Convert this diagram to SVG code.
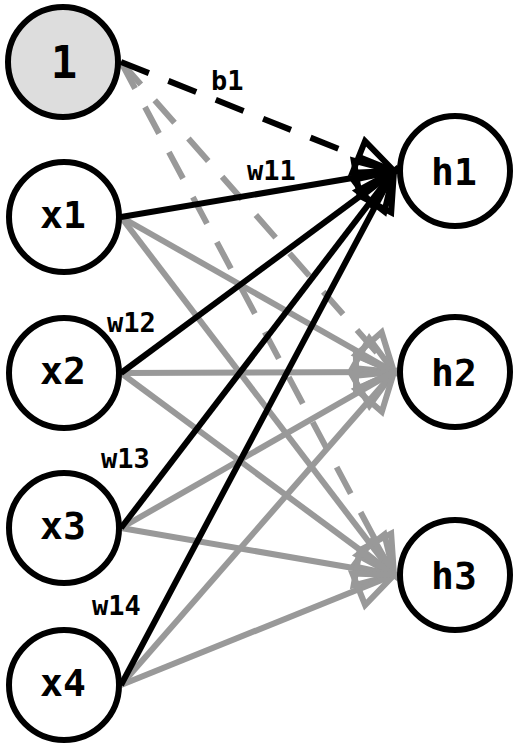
<svg xmlns="http://www.w3.org/2000/svg" width="519" height="747" viewBox="0 0 519 747">
<defs>
<style>
.node{fill:#fff;stroke:#000;stroke-width:6}
.bias{fill:#dddddd;stroke:#000;stroke-width:6}
.nl{font-family:'DejaVu Sans Mono',monospace;font-weight:700;font-size:38px;text-anchor:middle;fill:#000}
.el{font-family:'DejaVu Sans Mono',monospace;font-weight:700;font-size:27px;fill:#000}
.g{stroke:#999;stroke-width:6;fill:none;marker-end:url(#ag)}
.k{stroke:#000;stroke-width:6;fill:none;marker-end:url(#ak)}
.d{stroke-dasharray:30 21}
</style>
<marker id="ak" markerUnits="userSpaceOnUse" markerWidth="60" markerHeight="60" viewBox="-10 -30 60 60" refX="38" refY="0" orient="auto" overflow="visible">
<path d="M0,-17 L38,0 L0,17 Z" fill="none" stroke="#000" stroke-width="6" stroke-linejoin="miter"/>
</marker>
<marker id="ag" markerUnits="userSpaceOnUse" markerWidth="60" markerHeight="60" viewBox="-10 -30 60 60" refX="38" refY="0" orient="auto" overflow="visible">
<path d="M0,-17 L38,0 L0,17 Z" fill="none" stroke="#999" stroke-width="6" stroke-linejoin="miter"/>
</marker>
</defs>
<g id="connectors">
<path class="g d" d="M121,62 L394,372"/>
<path class="g d" d="M121,62 L394,575"/>
<path class="g" d="M121,217 L394,372"/>
<path class="g" d="M121,217 L394,575"/>
<path class="g" d="M121,373 L394,372"/>
<path class="g" d="M121,373 L394,575"/>
<path class="g" d="M121,528 L394,372"/>
<path class="g" d="M121,528 L394,575"/>
<path class="g" d="M121,685 L394,372"/>
<path class="g" d="M121,685 L394,575"/>
<path class="k d" d="M121,62 L394,171"/>
<path class="k" d="M121,217 L394,171"/>
<path class="k" d="M121,373 L394,171"/>
<path class="k" d="M121,528 L394,171"/>
<path class="k" d="M121,685 L394,171"/>
<text class="el" x="211" y="90">b1</text>
<text class="el" x="247" y="180">w11</text>
<text class="el" x="107" y="332">w12</text>
<text class="el" x="101" y="468">w13</text>
<text class="el" x="92" y="615">w14</text>
</g>
<g id="n1"><circle class="bias" cx="63" cy="62" r="55"/><text class="nl" x="64" y="78" style="font-size:44px">1</text></g>
<g id="x1"><circle class="node" cx="64" cy="217" r="55"/><text class="nl" x="63" y="228">x1</text></g>
<g id="x2"><circle class="node" cx="64" cy="373" r="55"/><text class="nl" x="63" y="384">x2</text></g>
<g id="x3"><circle class="node" cx="64" cy="528" r="55"/><text class="nl" x="63" y="539">x3</text></g>
<g id="x4"><circle class="node" cx="64" cy="685" r="55"/><text class="nl" x="63" y="696">x4</text></g>
<g id="h1"><circle class="node" cx="455" cy="171" r="55"/><text class="nl" x="454" y="185">h1</text></g>
<g id="h2"><circle class="node" cx="455" cy="372" r="55"/><text class="nl" x="454" y="386">h2</text></g>
<g id="h3"><circle class="node" cx="455" cy="575" r="55"/><text class="nl" x="454" y="589">h3</text></g>
</svg>
